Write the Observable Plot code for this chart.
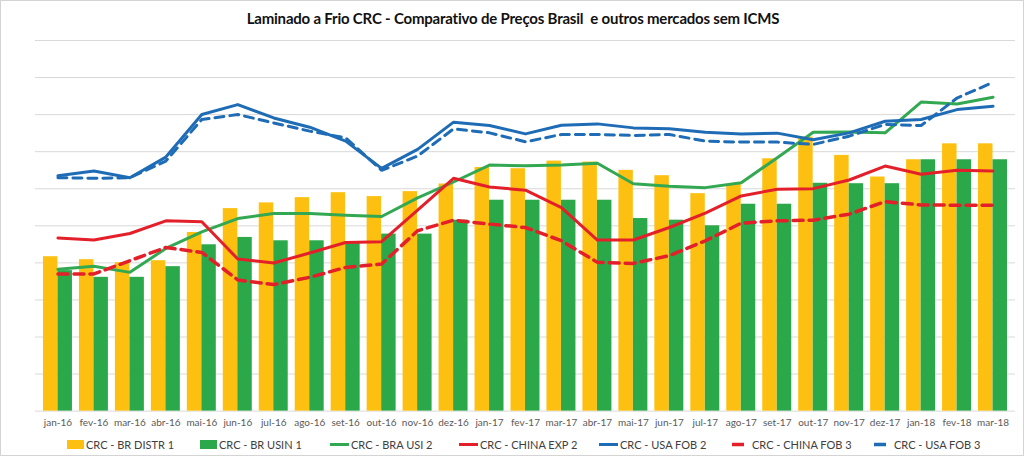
<!DOCTYPE html>
<html>
<head>
<meta charset="utf-8">
<script src="https://cdn.jsdelivr.net/npm/d3@7"></script>
<script src="https://cdn.jsdelivr.net/npm/@observablehq/plot@0.6"></script>
<style>
  html, body { margin: 0; padding: 0; background: #fff; }
  #wrap { position: relative; width: 1024px; height: 456px; box-sizing: border-box; border: 1px solid #d4d4d4; overflow: hidden; font-family: Lato, "Open Sans", sans-serif; }
  #title { position: absolute; left: 0; top: 8px; width: 1024px; text-align: center; font-weight: 700; font-size: 15px; letter-spacing: -0.2px; color: #111; white-space: pre; }
  #chart { position: absolute; left: -1px; top: 29px; }
  #legend { position: absolute; left: 66px; top: 437px; display: flex; font-size: 11px; color: #404040; }
  .item { display: flex; align-items: center; white-space: nowrap; }
  .sw { display: inline-block; margin-right: 2px; }
</style>
</head>
<body>
<div id="wrap">
  <div id="title"></div>
  <div id="chart"></div>
  <div id="legend"></div>
</div>
<script>
const titleText = "Laminado a Frio CRC - Comparativo de Preços Brasil  e outros mercados sem ICMS";

const months = ["jan-16","fev-16","mar-16","abr-16","mai-16","jun-16","jul-16","ago-16","set-16","out-16","nov-16","dez-16",
  "jan-17","fev-17","mar-17","abr-17","mai-17","jun-17","jul-17","ago-17","set-17","out-17","nov-17","dez-17",
  "jan-18","fev-18","mar-18"];

const brDistr1 = [2083,2043,2003,2029,2410,2732,2809,2880,2947,2894,2961,3064,3286,3270,3373,3360,3248,3176,2934,3060,3404,3696,3450,3158,3391,3606,3606];
const brUsin1  = [1895,1805,1805,1949,2244,2343,2298,2298,2271,2388,2388,2576,2845,2845,2845,2845,2598,2576,2500,2791,2791,3074,3068,3068,3391,3391,3391];
const braUsi2  = [1913,1953,1872,2195,2419,2598,2665,2665,2644,2625,2876,3091,3320,3310,3320,3343,3068,3033,3015,3082,3418,3763,3767,3754,4170,4144,4234];
const chinaExp2 = [2335,2308,2396,2567,2554,2052,1999,2133,2275,2285,2711,3141,3024,2980,2746,2308,2308,2477,2671,2903,2993,3001,3118,3306,3195,3248,3239];
const usaFob2  = [3176,3239,3149,3427,4001,4135,3955,3830,3642,3275,3531,3898,3853,3740,3857,3875,3821,3808,3763,3740,3750,3660,3754,3911,3934,4068,4113];
const chinaFob3 = [1851,1851,2029,2208,2141,1770,1707,1805,1939,1985,2433,2576,2523,2477,2298,2007,1993,2097,2298,2536,2567,2576,2657,2826,2782,2778,2778];
const usaFob3  = [3149,3141,3149,3373,3934,4001,3888,3777,3687,3248,3441,3808,3754,3633,3732,3732,3719,3732,3642,3629,3629,3598,3709,3867,3853,4224,4435];

const gridValues = [500,1000,1500,2000,2500,3000,3500,4000,4500,5000];

const seriesNames = ["CRC - BR DISTR 1","CRC - BR USIN 1","CRC - BRA USI 2","CRC - CHINA EXP 2","CRC - USA FOB 2","CRC - CHINA FOB 3","CRC - USA FOB 3"];

const C = {
  yellow: "#FDC010",
  greenBar: "#2BA84A",
  greenLine: "#33A852",
  red: "#E3202A",
  blue: "#1F6CB6"
};

const rows = months.map((m, i) => ({
  month: m,
  distr: brDistr1[i], usin: brUsin1[i], usi2: braUsi2[i],
  chExp: chinaExp2[i], usFob2: usaFob2[i], chFob3: chinaFob3[i], usFob3: usaFob3[i]
}));

const W = 1024, mL = 35, mR = 8;
const padIn = 0.2, padOut = 0.1;
const step = (W - mL - mR) / (months.length - padIn + 2 * padOut);
const half = step * (1 - padIn) / 2;

document.getElementById("title").textContent = titleText;

const chart = Plot.plot({
  width: W,
  height: 406,
  marginTop: 10,
  marginBottom: 25,
  marginLeft: mL,
  marginRight: mR,
  style: { fontFamily: "Lato, sans-serif", fontSize: "10px", color: "#595959", background: "transparent" },
  x: { domain: months, paddingInner: padIn, paddingOuter: padOut, label: null, tickSize: 0, tickPadding: 8 },
  y: { domain: [0, 5000], axis: null },
  marks: [
    Plot.gridY(gridValues, { stroke: "#d9d9d9", strokeOpacity: 1, strokeWidth: 1 }),
    Plot.ruleY([0], { stroke: "#d9d9d9", strokeWidth: 1 }),
    Plot.barY(rows, { x: "month", y: "distr", fill: C.yellow, insetRight: half }),
    Plot.barY(rows, { x: "month", y: "usin", fill: C.greenBar, insetLeft: half }),
    Plot.lineY(rows, { x: "month", y: "usi2", stroke: C.greenLine, strokeWidth: 3 }),
    Plot.lineY(rows, { x: "month", y: "chExp", stroke: C.red, strokeWidth: 3 }),
    Plot.lineY(rows, { x: "month", y: "usFob2", stroke: C.blue, strokeWidth: 3 }),
    Plot.lineY(rows, { x: "month", y: "chFob3", stroke: C.red, strokeWidth: 3.5, strokeDasharray: "10,6", strokeLinejoin: "miter" }),
    Plot.lineY(rows, { x: "month", y: "usFob3", stroke: C.blue, strokeWidth: 3, strokeDasharray: "9,6", strokeLinejoin: "miter" })
  ]
});
document.getElementById("chart").appendChild(chart);

// legend
const swatches = [
  { type: "bar", color: C.yellow, w: 133 },
  { type: "bar", color: C.greenBar, w: 130 },
  { type: "line", color: C.greenLine, w: 129 },
  { type: "line", color: C.red, w: 140 },
  { type: "line", color: C.blue, w: 133 },
  { type: "dash", color: C.red, w: 142 },
  { type: "dash", color: C.blue, w: 130 }
];
const leg = document.getElementById("legend");
seriesNames.forEach((name, i) => {
  const s = swatches[i];
  const item = document.createElement("div");
  item.className = "item";
  item.style.width = s.w + "px";
  let sw;
  if (s.type === "bar") {
    sw = `<svg class="sw" width="17" height="9"><rect width="17" height="9" fill="${s.color}"/></svg>`;
  } else if (s.type === "line") {
    sw = `<svg class="sw" width="19" height="9"><line x1="0" x2="19" y1="4.5" y2="4.5" stroke="${s.color}" stroke-width="3"/></svg>`;
  } else {
    sw = `<svg class="sw" width="17" height="9" style="margin-right:3px"><line x1="0" x2="12" y1="4.5" y2="4.5" stroke="${s.color}" stroke-width="3.5"/></svg>`;
  }
  item.innerHTML = sw + `<span>${name}</span>`;
  leg.appendChild(item);
});
</script>
</body>
</html>
